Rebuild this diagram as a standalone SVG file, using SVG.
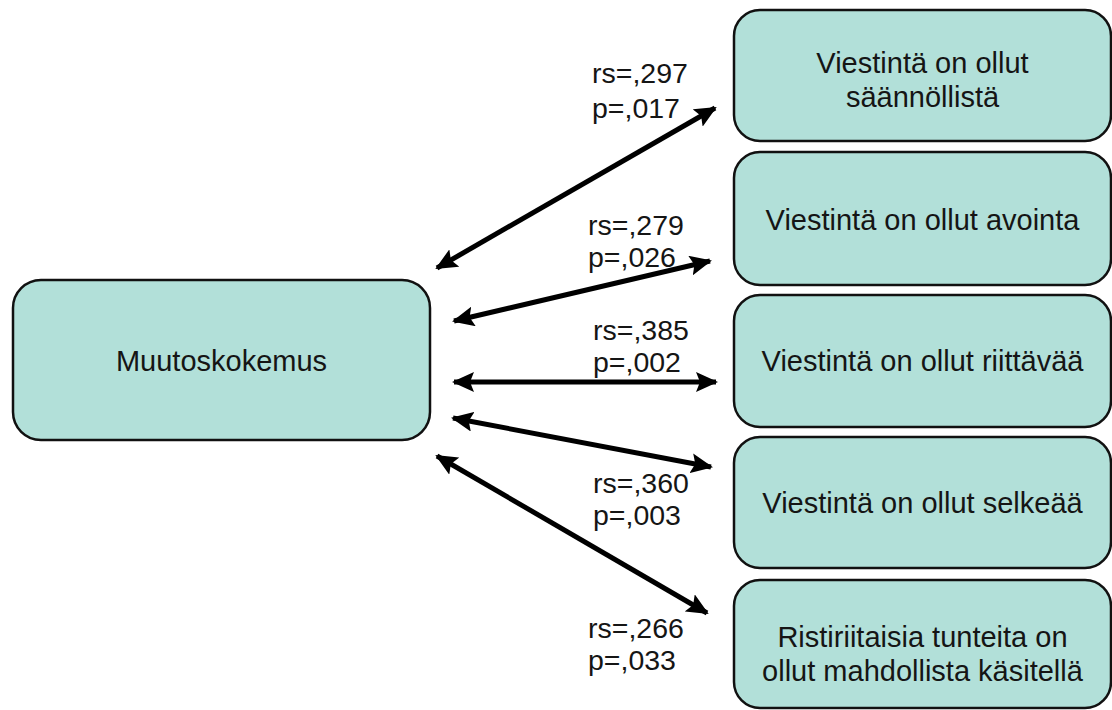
<svg xmlns="http://www.w3.org/2000/svg" width="1112" height="710" viewBox="0 0 1112 710">
<style>
.box{fill:#b2e0d9;stroke:#111;stroke-width:2.5}
.t{font-family:"Liberation Sans",Arial,sans-serif;font-size:29px;fill:#151515;text-anchor:middle}
.l{font-family:"Liberation Sans",Arial,sans-serif;font-size:28.5px;fill:#151515}
.c{stroke:#000;stroke-width:5;fill:none;marker-start:url(#ah);marker-end:url(#ah)}
</style>
<defs>
<marker id="ah" markerUnits="userSpaceOnUse" markerWidth="22" markerHeight="20" viewBox="0 0 22 20" refX="20" refY="10" orient="auto-start-reverse">
<path d="M0,0 L22,10 L0,20 L4,10 Z" fill="#000"/>
</marker>
</defs>
<rect width="1112" height="710" fill="#fff"/>
<g id="connectors">
<line class="c" x1="437" y1="268" x2="715" y2="108"/>
<line class="c" x1="454" y1="321" x2="710" y2="261"/>
<line class="c" x1="454" y1="382" x2="716" y2="382"/>
<line class="c" x1="453" y1="418" x2="711" y2="467"/>
<line class="c" x1="437" y1="456" x2="707" y2="613"/>
</g>
<g id="labels">
<text class="l" x="592" y="83">rs=,297</text>
<text class="l" x="592" y="118">p=,017</text>
<text class="l" x="588" y="235">rs=,279</text>
<text class="l" x="588" y="267">p=,026</text>
<text class="l" x="593" y="340">rs=,385</text>
<text class="l" x="593" y="372">p=,002</text>
<text class="l" x="593" y="493">rs=,360</text>
<text class="l" x="593" y="525">p=,003</text>
<text class="l" x="588" y="638">rs=,266</text>
<text class="l" x="588" y="670">p=,033</text>
</g>
<g id="n0">
<rect class="box" x="13" y="280" width="417" height="160" rx="28"/>
<text class="t" x="221.5" y="371">Muutoskokemus</text>
</g>
<g id="n1">
<rect class="box" x="734" y="10" width="377" height="131" rx="26"/>
<text class="t" x="922.5" y="73">Viestintä on ollut</text>
<text class="t" x="922.5" y="107">säännöllistä</text>
</g>
<g id="n2">
<rect class="box" x="734" y="152" width="377" height="133" rx="26"/>
<text class="t" x="922.5" y="230">Viestintä on ollut avointa</text>
</g>
<g id="n3">
<rect class="box" x="734" y="295" width="377" height="132" rx="26"/>
<text class="t" x="922.5" y="371">Viestintä on ollut riittävää</text>
</g>
<g id="n4">
<rect class="box" x="734" y="437" width="377" height="131" rx="26"/>
<text class="t" x="922.5" y="513">Viestintä on ollut selkeää</text>
</g>
<g id="n5">
<rect class="box" x="734" y="580" width="377" height="128" rx="26"/>
<text class="t" x="922.5" y="647">Ristiriitaisia tunteita on</text>
<text class="t" x="922.5" y="681">ollut mahdollista käsitellä</text>
</g>
</svg>
